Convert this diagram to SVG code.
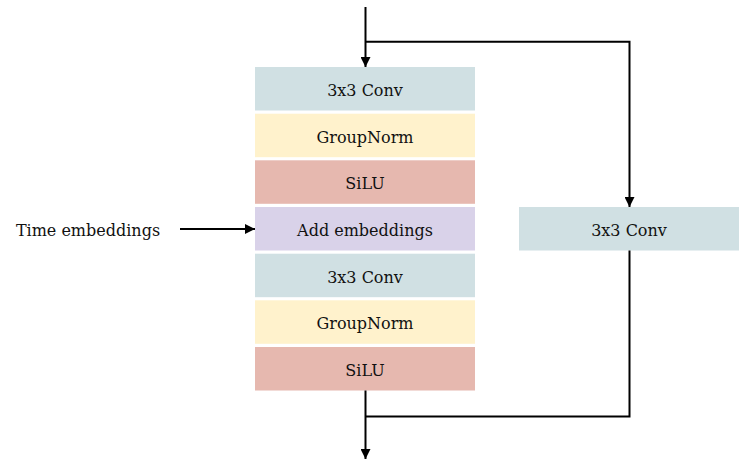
<svg xmlns="http://www.w3.org/2000/svg" width="747" height="468" viewBox="0 0 747 468">
<style>
.conv{fill:#d0e0e3}.gn{fill:#fff2cc}.silu{fill:#e6b8af}.add{fill:#d9d2e9}
text{font-family:"DejaVu Serif","Liberation Serif",serif;font-size:16px;fill:#111;text-anchor:middle}
.ln{stroke:#000;stroke-width:2;fill:none}
</style>
<defs>
<marker id="ah" viewBox="0 0 10 10" refX="10" refY="5" markerWidth="10" markerHeight="10" markerUnits="userSpaceOnUse" orient="auto">
<path d="M0,0 L10,5 L0,10 Z" fill="#000"/>
</marker>
</defs>
<rect width="747" height="468" fill="#fff"/>
<g id="b1"><rect class="conv" x="255" y="67" width="220" height="43.5"/><text x="365" y="96">3x3 Conv</text></g>
<g id="b2"><rect class="gn" x="255" y="113.7" width="220" height="43.5"/><text x="365" y="142.7">GroupNorm</text></g>
<g id="b3"><rect class="silu" x="255" y="160.3" width="220" height="43.5"/><text x="365" y="189.3">SiLU</text></g>
<g id="b4"><rect class="add" x="255" y="207" width="220" height="43.5"/><text x="365" y="236">Add embeddings</text></g>
<g id="b5"><rect class="conv" x="255" y="253.7" width="220" height="43.5"/><text x="365" y="282.7">3x3 Conv</text></g>
<g id="b6"><rect class="gn" x="255" y="300.3" width="220" height="43.5"/><text x="365" y="329.3">GroupNorm</text></g>
<g id="b7"><rect class="silu" x="255" y="347" width="220" height="43.5"/><text x="365" y="376">SiLU</text></g>
<g id="skip"><rect class="conv" x="519" y="207" width="220" height="43.5"/><text x="629" y="236">3x3 Conv</text></g>
<g id="time"><text x="88" y="236">Time embeddings</text></g>
<g id="connectors">
<path class="ln" d="M365.5,7 V67" marker-end="url(#ah)"/>
<path class="ln" d="M365.5,41.7 H629.5 V207" marker-end="url(#ah)"/>
<path class="ln" d="M629.5,250.5 V416.5 H365.5"/>
<path class="ln" d="M365.5,390.5 V459" marker-end="url(#ah)"/>
<path class="ln" d="M180,229 H255" marker-end="url(#ah)"/>
</g>
</svg>
